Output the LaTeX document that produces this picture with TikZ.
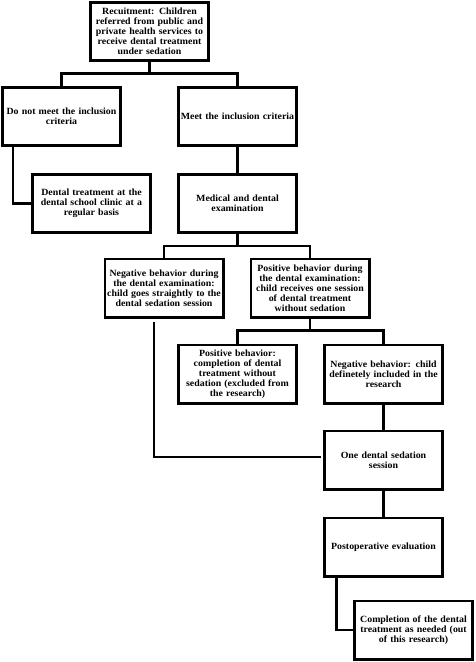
\documentclass[tikz,border=0pt]{standalone}
\usepackage{fontspec}
\setmainfont{Liberation Serif}[FakeStretch=1.04]
\usetikzlibrary{positioning}

\begin{document}
\begin{tikzpicture}[x=1pt, y=1pt, line width=2.6pt, line cap=rect, node distance=25pt,]
   \tikzstyle{box}=[rectangle, draw=black, fill=white, minimum width=118.4pt, minimum height=58.4pt, text width=114pt, inner sep=1pt, align=center, font=\fontsize{9.5}{10}\selectfont\bfseries]
   \tikzstyle{link}=[draw=black, line width=2.6pt]

   \useasboundingbox (0,0) rectangle (475,-662);

   \node[box] (rec) at (149.5,-31.5) {Recuitment: Children\\referred from public and\\private health services to\\receive dental treatment\\under sedation};
   \node[box] (dontmeet) at (61.5,-116.5) {Do not meet the inclusion\\criteria};
   \node[box] (meet) [right=55pt of dontmeet] {Meet the inclusion criteria};
   \node[box] (medical) [below=26pt of meet] {Medical and dental\\examination};
   \node[box] (clinic) [left=25pt of medical] {Dental treatment at the\\dental school clinic at a\\regular basis};
   \node[box] (negexam) at (164,-288) {Negative behavior during\\the dental examination:\\child goes straightly to the\\dental sedation session};
   \node[box] (posexam) [right=25pt of negexam] {Positive behavior during\\the dental examination:\\child receives one session\\of dental treatment\\without sedation};
   \node[box] (poscomp) at (237.5,-374) {Positive behavior:\\completion of dental\\treatment without\\sedation (excluded from\\the research)};
   \node[box] (negdef) [right=25pt of poscomp] {Negative behavior: child\\definetely included in the\\research};
   \node[box] (sedation) [below=25pt of negdef] {One dental sedation\\session};
   \node[box] (postop) [below=26pt of sedation] {Postoperative evaluation};
   \node[box] (completion) at (413.5,-630) {Completion of the dental\\treatment as needed (out\\of this research)};

   % tree links
   \path[link] (rec.south) -- ++(0,-11.5) -| (dontmeet);
   \path[link] (rec.south) -- ++(0,-11.5) -| (meet);
   \path[link] ([xshift=-48.5pt]dontmeet.south) |- (clinic);
   \path[link] (meet) -- (medical);
   \path[link] (medical.south) -- ++(0,-12) -| (negexam);
   \path[link] (medical.south) -- ++(0,-12) -| (posexam);
   \path[link] (posexam.south) -- ++(0,-12) -| (poscomp);
   \path[link] (posexam.south) -- ++(0,-12) -| (negdef);
   \path[link] ([xshift=-10pt,yshift=-5pt]negexam.south) |- ([xshift=-3.5pt,yshift=3pt]sedation.west);
   \path[link] (negdef) -- (sedation);
   \path[link] (sedation) -- (postop);
   \path[link] ([xshift=-47pt]postop.south) |- (completion);
\end{tikzpicture}
\end{document}
